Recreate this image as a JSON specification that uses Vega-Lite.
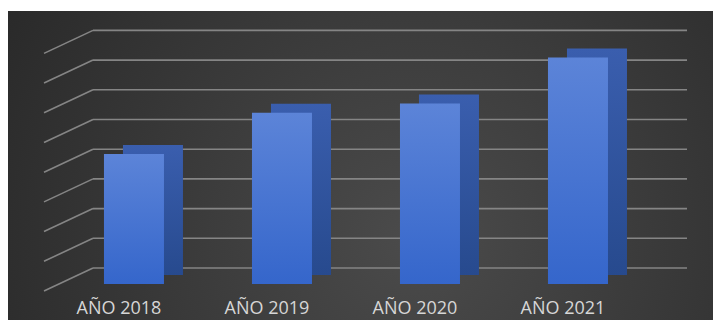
{
  "$schema": "https://vega.github.io/schema/vega-lite/v6.json",
  "width": 705,
  "height": 309,
  "padding": {"left": 8, "top": 11, "right": 0, "bottom": 0},
  "autosize": {"type": "none"},
  "background": "white",
  "config": {"view": {"stroke": null}},
  "datasets": {
    "bars": [
      {"year": "AÑO 2018", "value": 4.38},
      {"year": "AÑO 2019", "value": 5.77},
      {"year": "AÑO 2020", "value": 6.08},
      {"year": "AÑO 2021", "value": 7.63}
    ],
    "levels": [
      {"level": 0}, {"level": 1}, {"level": 2}, {"level": 3}, {"level": 4},
      {"level": 5}, {"level": 6}, {"level": 7}, {"level": 8}
    ],
    "panel": [{"panel": "fondo"}]
  },
  "layer": [
    {
      "data": {"name": "panel"},
      "mark": {
        "type": "rect",
        "color": {
          "gradient": "radial",
          "x1": 0.58, "y1": 0.6, "r1": 0,
          "x2": 0.58, "y2": 0.6, "r2": 0.72,
          "stops": [
            {"offset": 0, "color": "#4b4b4b"},
            {"offset": 1, "color": "#272727"}
          ]
        }
      },
      "encoding": {
        "x": {"value": 0},
        "x2": {"value": "width"},
        "y": {"value": 0},
        "y2": {"value": "height"}
      }
    },
    {
      "data": {"name": "levels"},
      "mark": {"type": "rule", "color": "#858585", "strokeWidth": 1.6, "xOffset": 85, "x2Offset": -26},
      "encoding": {
        "x": {"value": 0},
        "x2": {"value": "width"},
        "y": {"field": "level", "type": "quantitative", "scale": {"domain": [-1.751, 8.653], "zero": false, "nice": false}, "axis": null}
      }
    },
    {
      "data": {"name": "levels"},
      "mark": {"type": "rule", "color": "#858585", "strokeWidth": 1.6, "xOffset": 36, "x2Offset": 85, "yOffset": 23},
      "encoding": {
        "x": {"value": 0},
        "x2": {"value": 0},
        "y": {"field": "level", "type": "quantitative", "scale": {"domain": [-1.751, 8.653], "zero": false, "nice": false}, "axis": null},
        "y2": {"field": "level"}
      }
    },
    {
      "data": {"name": "bars"},
      "mark": {
        "type": "bar",
        "yOffset": 7,
        "y2Offset": 7,
        "color": {
          "gradient": "linear", "x1": 0, "y1": 0, "x2": 0, "y2": 1,
          "stops": [
            {"offset": 0, "color": "#3a5eae"},
            {"offset": 1, "color": "#274a8e"}
          ]
        }
      },
      "encoding": {
        "x": {"field": "year", "type": "nominal", "sort": null, "scale": {"type": "band", "paddingInner": 0.5946, "paddingOuter": 0.679, "align": 0.572}, "axis": null},
        "y": {"field": "value", "type": "quantitative", "scale": {"domain": [-1.751, 8.653], "zero": false, "nice": false}, "axis": null},
        "y2": {"datum": 0}
      }
    },
    {
      "data": {"name": "bars"},
      "mark": {
        "type": "bar",
        "xOffset": -19,
        "yOffset": 16,
        "y2Offset": 16,
        "color": {
          "gradient": "linear", "x1": 0, "y1": 0, "x2": 0, "y2": 1,
          "stops": [
            {"offset": 0, "color": "#5c84d8"},
            {"offset": 1, "color": "#3566cb"}
          ]
        }
      },
      "encoding": {
        "x": {"field": "year", "type": "nominal", "sort": null, "scale": {"type": "band", "paddingInner": 0.5946, "paddingOuter": 0.679, "align": 0.572}, "axis": null},
        "y": {"field": "value", "type": "quantitative", "scale": {"domain": [-1.751, 8.653], "zero": false, "nice": false}, "axis": null},
        "y2": {"datum": 0}
      }
    },
    {
      "data": {"name": "bars"},
      "mark": {
        "type": "text",
        "dx": -34,
        "dy": -6,
        "baseline": "alphabetic",
        "align": "center",
        "font": "Open Sans",
        "fontSize": 18,
        "letterSpacing": 0.6,
        "color": "#d6d6d6"
      },
      "encoding": {
        "x": {"field": "year", "type": "nominal", "sort": null, "scale": {"type": "band", "paddingInner": 0.5946, "paddingOuter": 0.679, "align": 0.572}, "axis": null},
        "y": {"value": "height"},
        "text": {"field": "year"}
      }
    }
  ]
}
